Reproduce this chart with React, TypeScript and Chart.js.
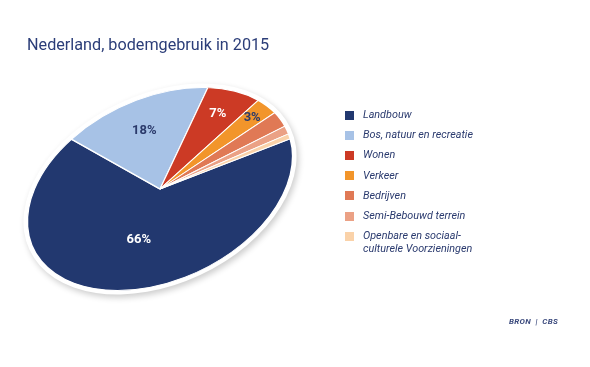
import React, { useEffect, useRef } from "react";
import { Chart, registerables } from "chart.js";

Chart.register(...registerables);

const title = "Nederland, bodemgebruik in 2015";
const source = "BRON  |  CBS";
const categories = [
  "Landbouw",
  "Bos, natuur en recreatie",
  "Wonen",
  "Verkeer",
  "Bedrijven",
  "Semi-Bebouwd terrein",
  "Openbare en sociaal-culturele Voorzieningen",
];
const legendLines = [
  ["Landbouw"],
  ["Bos, natuur en recreatie"],
  ["Wonen"],
  ["Verkeer"],
  ["Bedrijven"],
  ["Semi-Bebouwd terrein"],
  ["Openbare en sociaal-", "culturele Voorzieningen"],
];
const shares = [66.4, 17.5, 7.4, 3.4, 2.9, 1.5, 0.9];
const colors = ["#22386f", "#a7c2e6", "#cc3a25", "#f2952b", "#e07955", "#eba185", "#fad2a9"];

// styling for the percentage labels
const labelColors = ["#ffffff", "#2b3a6b", "#ffffff", "#2b3a6b"];
const labelRadius = [0.5, 0.66, 0.77, 0.86];

const CX = 160;
const CY = 189;
const RA = 140;
const RB = 91;
const TILT = (-25 * Math.PI) / 180;
const NAVY = "#2b3d78";

function toScreen(angle: number, f: number) {
  const lx = RA * f * Math.cos(angle);
  const ly = RB * f * Math.sin(angle);
  return {
    x: CX + lx * Math.cos(TILT) - ly * Math.sin(TILT),
    y: CY + lx * Math.sin(TILT) + ly * Math.cos(TILT),
  };
}

const ellipsePlugin = {
  id: "ellipsePie",
  beforeDatasetsDraw(chart: any) {
    const arc = chart.getDatasetMeta(0).data[0];
    if (!arc) return;
    const { x, y, outerRadius } = arc;
    const ctx = chart.ctx as CanvasRenderingContext2D;
    ctx.save();
    ctx.translate(CX, CY);
    ctx.rotate(TILT);
    ctx.beginPath();
    ctx.ellipse(0, 0, RA + 4, RB + 4, 0, 0, Math.PI * 2);
    ctx.shadowColor = "rgba(0,0,0,0.2)";
    ctx.shadowBlur = 6;
    ctx.shadowOffsetX = 2;
    ctx.shadowOffsetY = 3;
    ctx.fillStyle = "#ffffff";
    ctx.fill();
    ctx.restore();
    ctx.save();
    ctx.translate(CX, CY);
    ctx.rotate(TILT);
    ctx.scale(RA / outerRadius, RB / outerRadius);
    ctx.translate(-x, -y);
  },
  afterDatasetsDraw(chart: any) {
    const ctx = chart.ctx as CanvasRenderingContext2D;
    ctx.restore();
    const meta = chart.getDatasetMeta(0);
    ctx.save();
    ctx.font = "bold 13px Roboto";
    ctx.textAlign = "center";
    ctx.textBaseline = "middle";
    meta.data.forEach((el: any, i: number) => {
      if (i >= labelColors.length) return;
      const mid = (el.startAngle + el.endAngle) / 2;
      const p = toScreen(mid, labelRadius[i]);
      ctx.fillStyle = labelColors[i];
      ctx.fillText(Math.round(shares[i]) + "%", p.x, p.y);
    });
    ctx.restore();
  },
};

export default function App() {
  const ref = useRef<HTMLCanvasElement | null>(null);
  useEffect(() => {
    if (!ref.current) return;
    const chart = new Chart(ref.current, {
      type: "pie",
      data: {
        labels: categories,
        datasets: [
          {
            data: shares,
            backgroundColor: colors,
            borderColor: "#ffffff",
            borderWidth: 1.2,
            clip: false,
          } as any,
        ],
      },
      options: {
        animation: false,
        responsive: false,
        devicePixelRatio: 1,
        rotation: 96,
        layout: { padding: { left: 20, top: 80, right: 300, bottom: 60 } },
        plugins: {
          legend: { display: false },
          tooltip: { enabled: false },
          title: { display: false },
        },
      },
      plugins: [ellipsePlugin],
    });
    return () => chart.destroy();
  }, []);

  const rowStart = 115;
  const rowStep = 20.2;

  return (
    <div
      style={{
        position: "fixed",
        left: 0,
        top: 0,
        width: 590,
        height: 367,
        background: "#ffffff",
        overflow: "hidden",
        fontFamily: "Roboto, sans-serif",
      }}
    >
      <canvas ref={ref} width={590} height={367} style={{ position: "absolute", left: 0, top: 0 }} />
      <div
        style={{
          position: "absolute",
          left: 27,
          top: 35,
          fontSize: 16.2,
          lineHeight: "20px",
          color: NAVY,
          whiteSpace: "nowrap",
        }}
      >
        {title}
      </div>
      {legendLines.map((lines, i) => {
        const c = rowStart + i * rowStep;
        return (
          <div key={i}>
            <div
              style={{
                position: "absolute",
                left: 345,
                top: c - 4.5,
                width: 9,
                height: 9,
                background: colors[i],
              }}
            />
            <div
              style={{
                position: "absolute",
                left: 363,
                top: c - 7,
                fontSize: 10.8,
                lineHeight: "13px",
                fontStyle: "italic",
                color: "#2a3a6e",
                whiteSpace: "nowrap",
              }}
            >
              {lines.map((t, j) => (
                <div key={j}>{t}</div>
              ))}
            </div>
          </div>
        );
      })}
      <div
        style={{
          position: "absolute",
          left: 509,
          top: 317,
          fontSize: 8,
          lineHeight: "10px",
          fontStyle: "italic",
          fontWeight: 700,
          letterSpacing: 0.3,
          color: "#3b4a7d",
          whiteSpace: "pre",
        }}
      >
        {source}
      </div>
    </div>
  );
}
